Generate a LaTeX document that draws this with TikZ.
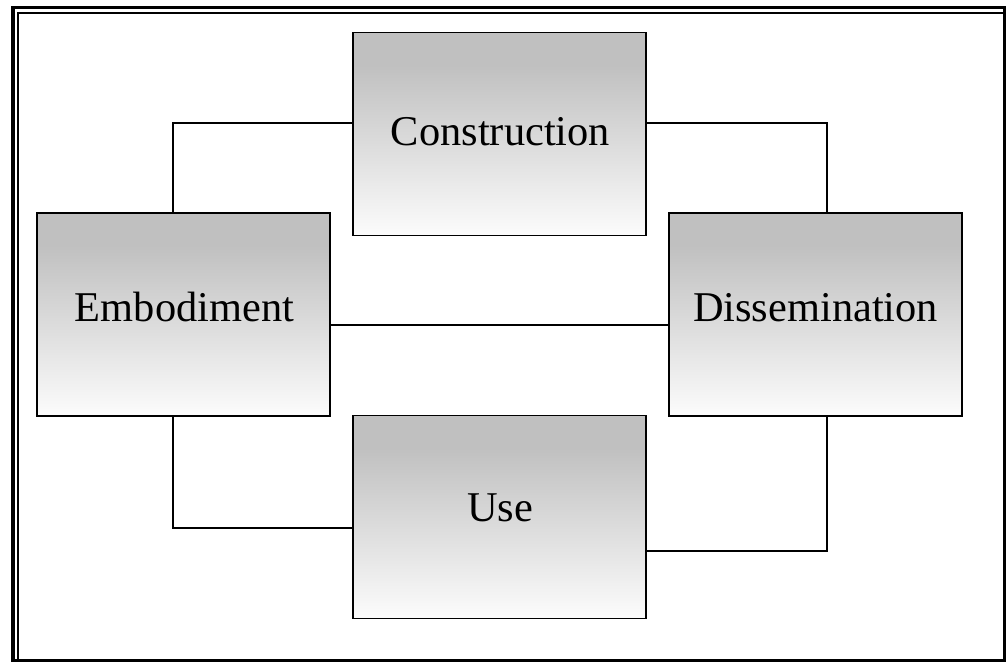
\documentclass[tikz,border=0pt]{standalone}
\usepackage{fontspec}
\setmainfont{Liberation Serif}
\definecolor{shadetop}{RGB}{192,192,192}
\definecolor{shadelow}{RGB}{252,252,252}
% grey band at the top of each stage, fading to near white at its bottom
\pgfdeclareverticalshading{stagefade}{100bp}{%
  color(0bp)=(shadelow); color(25bp)=(shadelow);
  color(67bp)=(shadetop); color(100bp)=(shadetop)}
\begin{document}
\begin{tikzpicture}[x=1pt,y=-1pt,
  stagebox/.style={draw=black, line width=1.8pt, rectangle, inner sep=0pt,
    minimum width=293pt, minimum height=203pt, shading=stagefade},
  stagelabel/.style={anchor=base, inner sep=0pt,
    font=\fontsize{42.4}{50}\selectfont},
  link/.style={draw=black, line width=1.6pt}]
  \useasboundingbox (0,0) rectangle (1008,662);
  % page frame
  \draw[line width=3.6pt] (12.8,7.6) rectangle (1004.6,660.4);
  \draw[line width=2.2pt] (17.6,13.2) rectangle (1004.6,660.4);

  % stages
  \node[stagebox] (c) at (499.5,134) {};
  \node[stagebox] (e) at (183.5,314.5) {};
  \node[stagebox] (d) at (815.5,314.5) {};
  \node[stagebox] (u) at (499.5,517) {};

  \node[stagelabel] (tc) at (500.5,145) {Construction};
  \node[stagelabel] (te) at (184.5,321) {Embodiment};
  \node[stagelabel] (td) at (815.5,321) {Dissemination};
  \node[stagelabel] (tu) at (500,521.5) {Use};

  % bend points of the connectors
  \coordinate (k1) at (173,123);
  \coordinate (k2) at (827,123);
  \coordinate (k3) at (500,325);
  \coordinate (k4) at (173,528);
  \coordinate (k5) at (827,551);

  \draw[link] (c.west|-k1) -| (e.north-|k1);
  \draw[link] (c.east|-k2) -| (d.north-|k2);
  \draw[link] (e.east|-k3) -- (d.west|-k3);
  \draw[link] (e.south-|k4) |- (u.west|-k4);
  \draw[link] (u.east|-k5) -| (d.south-|k5);
\end{tikzpicture}
\end{document}
